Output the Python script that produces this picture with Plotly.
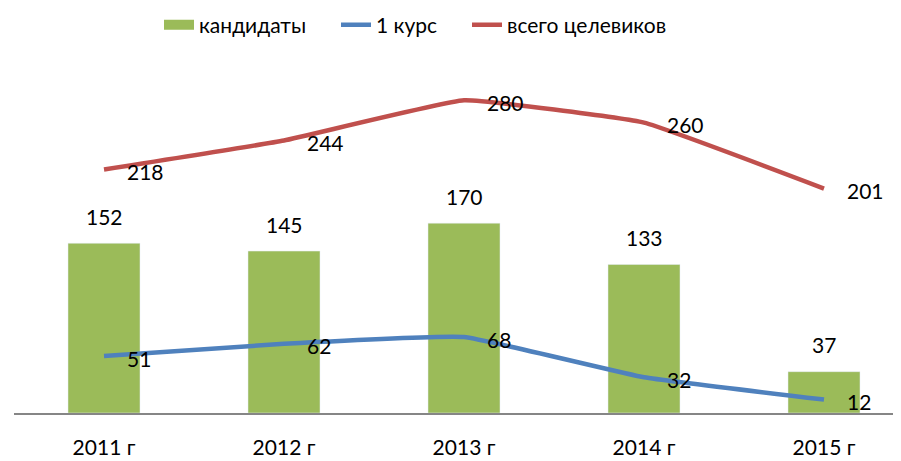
import plotly.graph_objects as go

categories = ["2011 г", "2012 г", "2013 г", "2014 г", "2015 г"]
candidates = [152, 145, 170, 133, 37]
first_year = [51, 62, 68, 32, 12]
total_targeted = [218, 244, 280, 260, 201]

GREEN = "#9BBB59"
BLUE = "#4F81BD"
RED = "#C0504D"
FONT = "Lato"
FS = 21

# page body has an 8px margin; figure sized so it ends at the window edges
OFF = 8
W, H = 901 - OFF, 461 - OFF
ML, MR, MT, MB = 14 - OFF, 0, 78 - OFF, 48
PW = W - ML - MR

fig = go.Figure()
fig.add_trace(go.Bar(x=categories, y=candidates, marker_color=GREEN, width=0.4,
                     showlegend=False, hoverinfo="skip"))
fig.add_trace(go.Scatter(x=categories, y=first_year, mode="lines",
                         line=dict(color=BLUE, width=4.5, shape="spline", smoothing=0.3),
                         showlegend=False))
fig.add_trace(go.Scatter(x=categories, y=total_targeted, mode="lines",
                         line=dict(color=RED, width=4.5, shape="spline", smoothing=0.3),
                         showlegend=False))

# legend entries (page x of legend box)
leg_specs = [("кандидаты", GREEN, 12, "legend", 159),
             ("1 курс", BLUE, 4.5, "legend2", 336),
             ("всего целевиков", RED, 4.5, "legend3", 467)]
layout_legends = {}
for name, col, w, lg, px in leg_specs:
    fig.add_trace(go.Scatter(x=[None], y=[None], mode="lines", name=name,
                             line=dict(color=col, width=w), legend=lg))
    layout_legends[lg] = dict(x=(px - OFF) / W, xref="container", xanchor="left",
                              y=1 - (25 - OFF) / H, yref="container",
                              yanchor="middle", orientation="h",
                              font=dict(family=FONT, size=FS, color="black"),
                              bgcolor="rgba(0,0,0,0)")

annotations = []
for c, v in zip(categories, candidates):
    annotations.append(dict(x=c, y=v, text=str(v), showarrow=False, xanchor="center",
                            yanchor="middle", yshift=27,
                            font=dict(family=FONT, size=FS, color="black")))
for series in (first_year, total_targeted):
    for c, v in zip(categories, series):
        annotations.append(dict(x=c, y=v, text=str(v), showarrow=False, xanchor="left",
                                yanchor="middle", xshift=21, yshift=-2,
                                font=dict(family=FONT, size=FS, color="black")))

fig.update_layout(
    width=W, height=H,
    margin=dict(l=ML, r=MR, t=MT, b=MB, autoexpand=False),
    paper_bgcolor="white", plot_bgcolor="white",
    font=dict(family=FONT, size=FS, color="black"),
    annotations=annotations,
    xaxis=dict(range=[-0.5, -0.5 + PW / 180.0], showgrid=False, zeroline=False,
               showline=True, linecolor="#868686", linewidth=1.5, automargin=False,
               ticks="", ticklabelstandoff=15,
               tickfont=dict(family=FONT, size=FS, color="black")),
    yaxis=dict(range=[0, 300], visible=False, showgrid=False, zeroline=False, automargin=False),
    **layout_legends,
)

fig.write_html("out.html")
